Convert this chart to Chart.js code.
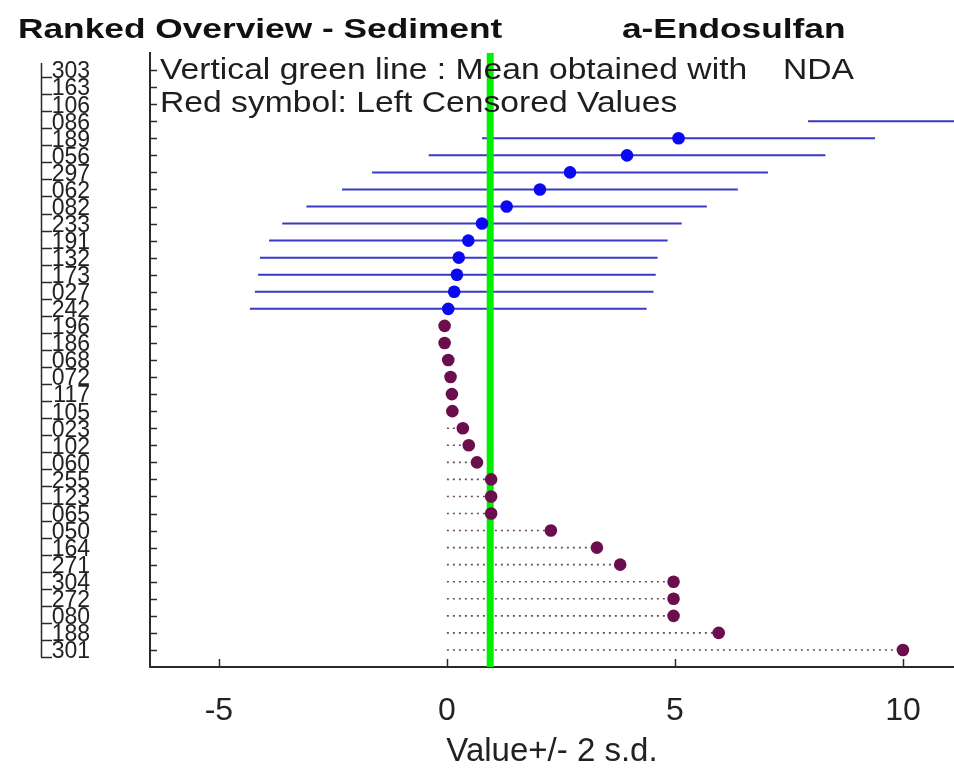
<!DOCTYPE html>
<html><head><meta charset="utf-8">
<script src="https://cdn.jsdelivr.net/npm/chart.js@4/dist/chart.umd.min.js"></script>
<style>html,body{margin:0;padding:0;background:#fff;overflow:hidden}#wrap{width:954px;height:775px;position:relative}</style>
</head><body><div id="wrap"><canvas id="c" width="954" height="775"></canvas></div>
<script>
// ---- texts ----
const titleLeft = 'Ranked Overview - Sediment';
const titleRight = 'a-Endosulfan';
const note1 = 'Vertical green line : Mean obtained with';
const note1b = 'NDA';
const note2 = 'Red symbol: Left Censored Values';
const xTitle = 'Value+/- 2 s.d.';

// ---- categories (laboratories, top to bottom) ----
const labs = ['303','163','106','086','189','056','297','062','082','233','191','132','173','027','242',
              '196','186','068','072','117','105','023','102','060','255','123','065','050','164','271',
              '304','272','080','188','301'];

// ---- axis ticks ----
const xTickValues = [-5, 0, 5, 10];

// ---- mean (green line) ----
const meanValue = 0.95;

// ---- measured values with +/- 2 s.d. (blue) ----
const measuredLabs   = ['303','163','106','086','189','056','297','062','082','233','191','132','173','027','242'];
const measuredValues = [25.0, 20.0, 17.0, 12.3, 5.08, 3.95, 2.70, 2.04, 1.31, 0.77, 0.47, 0.26, 0.22, 0.16, 0.03];
const measuredTwoSd  = [4.40, 4.40, 4.40, 4.38, 4.31, 4.35, 4.34, 4.34, 4.39, 4.38, 4.37, 4.36, 4.36, 4.37, 4.35];

// ---- left censored values (red/purple symbols) ----
const censoredLabs   = ['196','186','068','072','117','105','023','102','060','255','123','065','050','164','271','304','272','080','188','301'];
const censoredValues = [-0.05,-0.05, 0.03, 0.08, 0.11, 0.12, 0.35, 0.48, 0.66, 0.97, 0.97, 0.97, 2.28, 3.29, 3.80, 4.97, 4.97, 4.97, 5.96, 10.0];

const FAM = '"Liberation Sans", Arial, sans-serif';
const rowOf = l => labs.indexOf(l) + 1;

const barData = [];
measuredLabs.forEach((l, i) => {
  const y = rowOf(l), lo = measuredValues[i] - measuredTwoSd[i], hi = measuredValues[i] + measuredTwoSd[i];
  barData.push({x: lo, y}, {x: hi, y}, {x: hi, y: null});
});
const dotData = [];
censoredLabs.forEach((l, i) => {
  const y = rowOf(l);
  dotData.push({x: 0, y}, {x: censoredValues[i], y}, {x: censoredValues[i], y: null});
});
const bluePts = measuredLabs.map((l, i) => ({x: measuredValues[i], y: rowOf(l)}));
const redPts = censoredLabs.map((l, i) => ({x: censoredValues[i], y: rowOf(l)}));

function sText(ctx, txt, x, y, font, sx, color) {
  ctx.save(); ctx.font = font; ctx.fillStyle = color; ctx.textBaseline = 'alphabetic'; ctx.textAlign = 'left';
  ctx.translate(x, y); ctx.scale(sx, 1); ctx.fillText(txt, 0, 0); ctx.restore();
}

const decor = {
  id: 'decor',
  afterDraw(chart) {
    const ctx = chart.ctx, xs = chart.scales.x, ys = chart.scales.y, ca = chart.chartArea;
    ctx.save();
    ctx.strokeStyle = '#2a2a2a'; ctx.lineWidth = 1.5;
    // inner ticks on left axis
    labs.forEach((_, i) => {
      const y = Math.round(ys.getPixelForValue(i + 1)) + 0.5;
      ctx.beginPath(); ctx.moveTo(ca.left, y); ctx.lineTo(ca.left + 7, y); ctx.stroke();
    });
    // inner ticks on bottom axis
    xTickValues.forEach(v => {
      const x = Math.round(xs.getPixelForValue(v)) + 0.5;
      ctx.beginPath(); ctx.moveTo(x, ca.bottom); ctx.lineTo(x, ca.bottom - 8); ctx.stroke();
    });
    // secondary bracket next to the labels
    ctx.beginPath(); ctx.moveTo(41.5, ys.getPixelForValue(1) - 7); ctx.lineTo(41.5, ys.getPixelForValue(35) + 7.5); ctx.stroke();
    labs.forEach((_, i) => {
      const y = Math.round(ys.getPixelForValue(i + 1)) + 7.5;
      ctx.beginPath(); ctx.moveTo(41, y); ctx.lineTo(52, y); ctx.stroke();
    });
    ctx.restore();
    // title + notes
    sText(ctx, titleLeft, 18, 37.5, 'bold 28px ' + FAM, 1.26, '#111');
    sText(ctx, titleRight, 622, 37.5, 'bold 28px ' + FAM, 1.26, '#111');
    sText(ctx, note1, 160, 79, '29px ' + FAM, 1.16, '#1e1e1e');
    sText(ctx, note1b, 783, 79, '29px ' + FAM, 1.16, '#1e1e1e');
    sText(ctx, note2, 160, 112, '29px ' + FAM, 1.16, '#1e1e1e');
  }
};

new Chart(document.getElementById('c'), {
  type: 'scatter',
  data: {
    datasets: [
      {data: barData, showLine: true, borderColor: '#3a3ac8', borderWidth: 2, pointRadius: 0, order: 5, spanGaps: false},
      {data: dotData, showLine: true, borderColor: '#6e4a5e', borderWidth: 1.6, borderDash: [2, 4], pointRadius: 0, order: 4, spanGaps: false},
      {data: [{x: meanValue, y: 0}, {x: meanValue, y: 36}], showLine: true, borderColor: '#00ee00', borderWidth: 7, pointRadius: 0, order: 3},
      {data: bluePts, pointRadius: 6.3, pointBackgroundColor: '#0a0af0', pointBorderWidth: 0, order: 2},
      {data: redPts, pointRadius: 6.3, pointBackgroundColor: '#6a0e4e', pointBorderWidth: 0, order: 1}
    ]
  },
  options: {
    responsive: false, animation: false, devicePixelRatio: 1,
    layout: {autoPadding: false, padding: {top: 53, right: 0, bottom: 0, left: 0}},
    plugins: {legend: {display: false}, tooltip: {enabled: false}, title: {display: false}},
    scales: {
      x: {
        type: 'linear', position: 'bottom', min: -6.51, max: 11.12,
        afterBuildTicks: s => { s.ticks = xTickValues.map(v => ({value: v})); },
        afterFit: s => { s.height = 108; s.paddingLeft = 0; s.paddingRight = 0; s.paddingTop = 0; s.paddingBottom = 0; },
        grid: {display: false, drawTicks: false},
        border: {display: true, color: '#2a2a2a', width: 2},
        ticks: {font: {family: FAM, size: 32}, color: '#222', padding: 25, maxRotation: 0, autoSkip: false},
        title: {display: true, text: xTitle, font: {family: FAM, size: 33}, color: '#222', padding: {top: 0, bottom: 3}}
      },
      y: {
        type: 'linear', min: 0, max: 36, reverse: true,
        afterBuildTicks: s => { s.ticks = labs.map((_, i) => ({value: i + 1})); },
        afterFit: s => { s.width = 150; s.paddingLeft = 0; s.paddingRight = 0; s.paddingTop = 0; s.paddingBottom = 0; },
        grid: {display: false, drawTicks: false},
        border: {display: true, color: '#2a2a2a', width: 2},
        ticks: {autoSkip: false, font: {family: FAM, size: 23}, color: '#222', padding: 60, labelOffset: 2,
                callback: v => labs[v - 1]}
      }
    }
  },
  plugins: [decor]
});
</script></body></html>
